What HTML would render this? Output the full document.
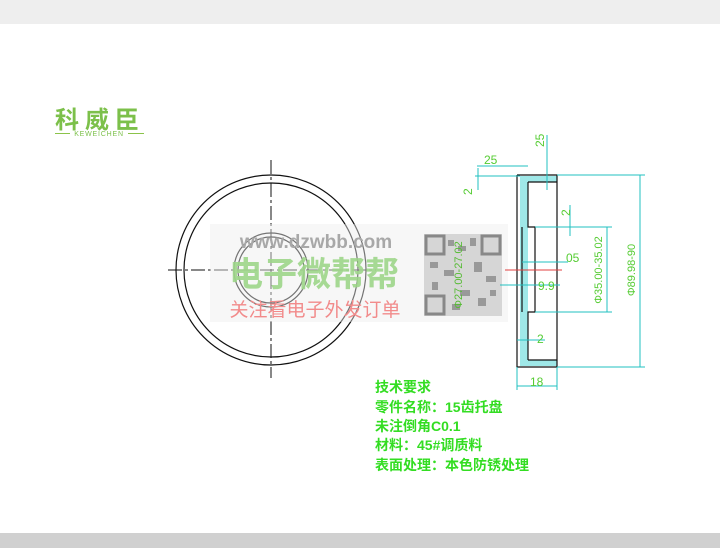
<!DOCTYPE html>
<html><head><meta charset="utf-8"><style>
html,body{margin:0;padding:0;background:#fff;}
svg{display:block}
text{font-family:"Liberation Sans","Noto Sans CJK SC",sans-serif}
</style></head><body>
<svg width="720" height="548" viewBox="0 0 720 548" xmlns="http://www.w3.org/2000/svg">
<rect x="0" y="0" width="720" height="24" fill="#eeeeee"/>
<rect x="0" y="533" width="720" height="15" fill="#d0d0d0"/>
<!-- logo -->
<text x="55" y="128" font-size="24" fill="#7cc04a" font-weight="bold" letter-spacing="6" font-family="Noto Sans CJK SC,sans-serif">科威臣</text>
<line x1="55" y1="133.5" x2="70" y2="133.5" stroke="#8bc34a" stroke-width="1"/>
<line x1="128" y1="133.5" x2="144" y2="133.5" stroke="#8bc34a" stroke-width="1"/>
<text x="99" y="136" font-size="7" fill="#7cc04a" text-anchor="middle" letter-spacing="0.8">KEWEICHEN</text>
<!-- front view -->
<g fill="none" stroke="#111" stroke-width="1.2">
<circle cx="271" cy="270" r="95"/>
<circle cx="271" cy="270" r="87"/>
<circle cx="271" cy="270" r="37"/>
<circle cx="271" cy="270" r="33"/>
</g>
<g stroke="#111" stroke-width="1" stroke-dasharray="14,3,3,3">
<line x1="168" y1="270" x2="376" y2="270"/>
<line x1="271" y1="160" x2="271" y2="378"/>
</g>
<!-- watermark -->
<rect x="210" y="224" width="298" height="98" fill="#eeeeee" opacity="0.45"/>
<text x="316" y="248" font-size="19" fill="#a8a8a8" font-weight="bold" text-anchor="middle">www.dzwbb.com</text>
<text x="314" y="286" font-size="34" fill="#9ed68a" font-weight="bold" text-anchor="middle" font-family="Noto Sans CJK SC,sans-serif" opacity="0.9">电子微帮帮</text>
<text x="315" y="316" font-size="19" fill="#f28b8b" text-anchor="middle" font-family="Noto Sans CJK SC,sans-serif">关注看电子外发订单</text>
<rect x="424" y="234" width="78" height="82" fill="#c8c8c8" opacity="0.7"/>
<g fill="#999">
<rect x="448" y="240" width="6" height="6"/><rect x="458" y="246" width="8" height="5"/><rect x="470" y="238" width="6" height="8"/>
<rect x="430" y="262" width="8" height="6"/><rect x="444" y="270" width="10" height="6"/><rect x="474" y="262" width="8" height="10"/>
<rect x="486" y="276" width="10" height="6"/><rect x="432" y="282" width="6" height="8"/><rect x="460" y="290" width="10" height="6"/>
<rect x="478" y="298" width="8" height="8"/><rect x="452" y="304" width="8" height="6"/><rect x="490" y="290" width="6" height="6"/>
</g>
<rect x="426" y="236" width="18" height="18" fill="none" stroke="#888" stroke-width="3"/>
<rect x="482" y="236" width="18" height="18" fill="none" stroke="#888" stroke-width="3"/>
<rect x="426" y="296" width="18" height="18" fill="none" stroke="#888" stroke-width="3"/>
<text transform="translate(462,275) rotate(-90)" font-size="11" fill="#55bb33" text-anchor="middle">Φ27.00-27.02</text>
<!-- side view -->
<g fill="#9fe8e8">
<rect x="520" y="176" width="8" height="190"/>
<rect x="520" y="176" width="37" height="6"/>
<rect x="520" y="360" width="37" height="6"/>
</g>
<g fill="none" stroke="#111" stroke-width="1.2">
<polyline points="517,175 557,175 557,367 517,367 517,175"/>
<polyline points="528,182 557,182"/>
<polyline points="528,360 557,360"/>
<polyline points="528,182 528,227 535,227 535,312 528,312 528,360"/>
<polyline points="522,227 522,312"/>
</g>
<g stroke="#20c0c0" stroke-width="1" fill="none">
<line x1="557" y1="175" x2="645" y2="175"/>
<line x1="557" y1="367" x2="645" y2="367"/>
<line x1="640" y1="175" x2="640" y2="367"/>
<line x1="535" y1="227" x2="612" y2="227"/>
<line x1="535" y1="312" x2="612" y2="312"/>
<line x1="607" y1="227" x2="607" y2="312"/>
<line x1="477" y1="166" x2="528" y2="166"/>
<line x1="478" y1="168" x2="478" y2="190"/>
<line x1="475" y1="176" x2="520" y2="176"/>
<line x1="547" y1="135" x2="547" y2="190"/>
<line x1="570" y1="205" x2="570" y2="236"/>
<line x1="522" y1="262" x2="568" y2="262"/>
<line x1="500" y1="285" x2="560" y2="285"/>
<line x1="517" y1="340" x2="545" y2="340"/>
<line x1="517" y1="367" x2="517" y2="390"/>
<line x1="557" y1="367" x2="557" y2="390"/>
<line x1="517" y1="386" x2="557" y2="386"/>
</g>
<line x1="505" y1="270" x2="562" y2="270" stroke="#e04040" stroke-width="1"/>
<g fill="#55cc33" font-size="12">
<text x="484" y="164">25</text>
<text transform="translate(544,147) rotate(-90)">25</text>
<text transform="translate(472,195) rotate(-90)">2</text>
<text transform="translate(570,216) rotate(-90)">2</text>
<text x="566" y="262">05</text>
<text x="538" y="290">9.9</text>
<text x="537" y="343">2</text>
<text x="530" y="386">18</text>
<text transform="translate(602,270) rotate(-90)" text-anchor="middle" font-size="11">Φ35.00-35.02</text>
<text transform="translate(635,270) rotate(-90)" text-anchor="middle" font-size="11">Φ89.98-90</text>
</g>
<!-- notes -->
<g fill="#33dd22" font-size="14" font-weight="bold" font-family="Noto Sans CJK SC,sans-serif">
<text x="375" y="392">技术要求</text>
<text x="375" y="412">零件名称：15齿托盘</text>
<text x="375" y="431">未注倒角C0.1</text>
<text x="375" y="450">材料：45#调质料</text>
<text x="375" y="470">表面处理：本色防锈处理</text>
</g>
</svg>
</body></html>
